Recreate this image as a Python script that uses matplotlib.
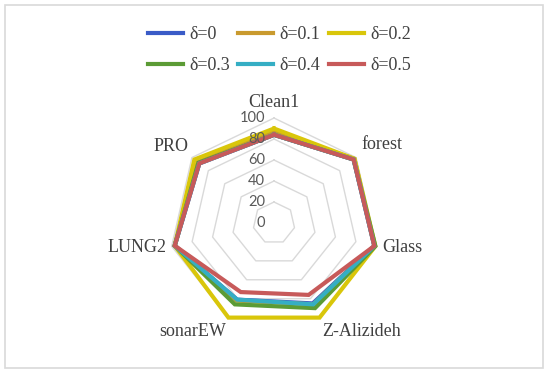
import matplotlib
matplotlib.use("Agg")
import matplotlib.pyplot as plt
import numpy as np
from matplotlib.patches import Rectangle

categories = ["Clean1", "forest", "Glass", "Z-Alizideh", "sonarEW", "LUNG2", "PRO"]
series_names = ["δ=0", "δ=0.1", "δ=0.2", "δ=0.3", "δ=0.4", "δ=0.5"]
d0 = [84, 97, 98, 85, 81, 97, 91]
d01 = [87, 98, 98, 86, 82, 97, 93]
d02 = [90, 98, 99, 100, 100, 97, 97]
d03 = [84, 97, 99, 90, 86, 97, 92]
d04 = [84, 97, 98, 86, 81, 97, 91]
d05 = [84, 97, 98, 76, 73, 97, 91]
rticks = [0, 20, 40, 60, 80, 100]

series = [d0, d01, d02, d03, d04, d05]
colors = ["#3a5bc7", "#c99a2e", "#d9c60a", "#5b9b35", "#35aec4", "#c75a5a"]

fig = plt.figure(figsize=(5.5, 3.75), dpi=100)
fig.patches.append(Rectangle((0.009, 0.019), 0.978, 0.968, transform=fig.transFigure,
                             fill=False, edgecolor="#d9d9d9", lw=1.2))

ax = fig.add_axes([0.3073, 0.1253, 0.3818, 0.56], projection="polar")
ax.set_theta_offset(np.pi / 2)
ax.set_theta_direction(-1)
ax.set_ylim(0, 100)
ax.grid(False)
ax.set_xticks([])
ax.set_yticks([])
ax.spines["polar"].set_visible(False)
ax.patch.set_alpha(0)

n = len(categories)
angles = np.linspace(0, 2 * np.pi, n, endpoint=False)
closed = np.append(angles, angles[0])

# heptagon grid
for r in rticks[1:]:
    ax.plot(closed, [r] * (n + 1), color="#d9d9d9", lw=1.0, zorder=1, clip_on=False)

for vals, name, c in zip(series, series_names, colors):
    ax.plot(closed, vals + vals[:1], color=c, lw=3, label=name, zorder=3,
            clip_on=False, solid_joinstyle="miter")

for r in rticks:
    ax.annotate(str(r), xy=(0, r), xytext=(-9, 0), textcoords="offset pixels",
                ha="right", va="center", fontsize=10.5, color="#595959",
                family="Lato", zorder=4)

label_pos = {
    "Clean1": (107, "center", "bottom"),
    "forest": (107, "left", "bottom"),
    "Glass": (106, "left", "center"),
    "Z-Alizideh": (106, "left", "top"),
    "sonarEW": (106, "right", "top"),
    "LUNG2": (105, "right", "center"),
    "PRO": (104, "right", "bottom"),
}
for a, cat in zip(angles, categories):
    r, ha, va = label_pos[cat]
    ax.text(a, r, cat, ha=ha, va=va, fontsize=13, color="#404040",
            family="Liberation Serif")

handles, labels = ax.get_legend_handles_labels()
order = [0, 3, 1, 4, 2, 5]
fig.legend([handles[i] for i in order], [labels[i] for i in order],
           loc="center", bbox_to_anchor=(0.508, 0.866), ncol=3, frameon=False,
           prop={"family": "Liberation Serif", "size": 13},
           handlelength=1.95, handletextpad=0.35, columnspacing=0.45,
           labelspacing=0.75, borderpad=0, labelcolor="#404040")

fig.savefig("out.png", dpi=100)
